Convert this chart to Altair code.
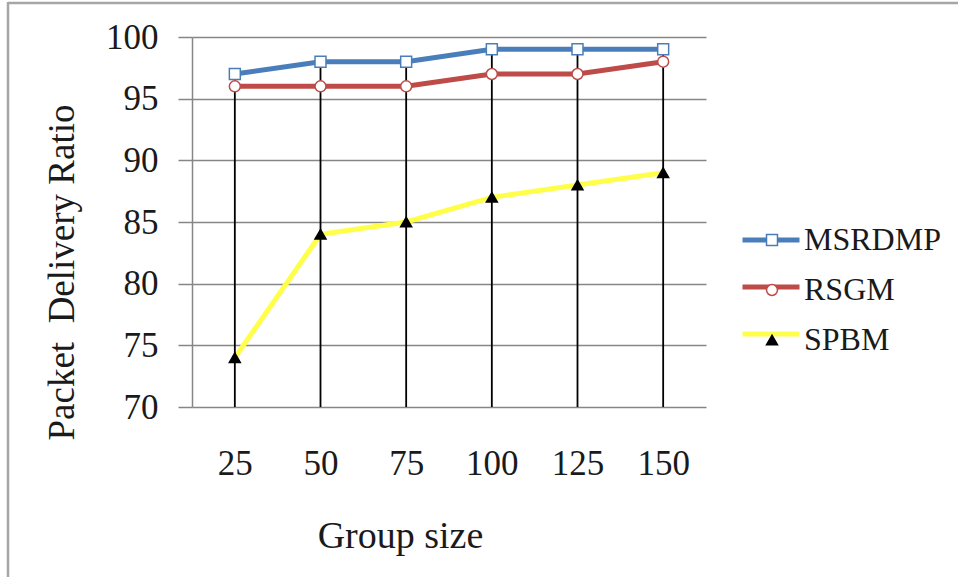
import altair as alt
import pandas as pd

# Group sizes and packet delivery ratio of each protocol
groups = ["25", "50", "75", "100", "125", "150"]
series_names = ["MSRDMP", "RSGM", "SPBM"]
msrdmp = [97, 98, 98, 99, 99, 99]
rsgm = [96, 96, 96, 97, 97, 98]
spbm = [74, 84, 85, 87, 88, 89]

line_colors = ["#4a7ebb", "#be4b48", "#ffff4a"]
marker_strokes = ["#4a7ebb", "#be4b48", "#000000"]
marker_fills = ["#ffffff", "#ffffff", "#000000"]
marker_shapes = ["square", "circle", "triangle-up"]

rows = []
for name, vals in zip(series_names, [msrdmp, rsgm, spbm]):
    for g, v in zip(groups, vals):
        rows.append({"group": g, "series": name, "value": v})
df = pd.DataFrame(rows)

W, H = 514, 370
PAD_L, PAD_T = 192, 37
FONT = "Liberation Serif"
GRID = "#868686"

y_axis = alt.Axis(
    values=[70, 75, 80, 85, 90, 95, 100],
    domainColor=GRID, domainWidth=1.5,
    tickColor=GRID, tickWidth=1.5, tickSize=14,
    gridColor=GRID, gridWidth=1.5,
    labelFontSize=35, labelPadding=20, labelBaseline="middle",
    labelColor="#1a1a1a", labelFont=FONT,
    title="Packet\u00a0 Delivery Ratio", titleFont=FONT, titleFontSize=37,
    titleFontWeight="normal", titleColor="#1a1a1a",
    titleAngle=270, titleX=-130, titleY=235,
    titleAlign="center", titleBaseline="middle",
)
x_axis = alt.Axis(
    domain=False, ticks=False, grid=False, labelAngle=0,
    labelFontSize=35, labelPadding=39, labelColor="#1a1a1a", labelFont=FONT,
    title="Group size", titleFont=FONT, titleFontSize=38,
    titleFontWeight="normal", titleColor="#1a1a1a",
    titleX=208, titleY=129, titleAlign="center", titleBaseline="middle",
)
y_scale = alt.Scale(domain=[70, 100], nice=False, zero=False)
x_enc = alt.X("group:O", sort=groups, axis=x_axis, scale=alt.Scale(type="point", padding=0.5))

base = alt.Chart(df)

lines = base.mark_line(strokeWidth=5).encode(
    x=x_enc,
    y=alt.Y("value:Q", scale=y_scale, axis=y_axis),
    stroke=alt.Stroke(
        "series:N",
        scale=alt.Scale(domain=series_names, range=line_colors),
        legend=alt.Legend(
            title=None, orient="none", legendX=548, legendY=172,
            symbolType="stroke", symbolSize=3249, symbolStrokeWidth=5,
            labelExpr="''", labelFontSize=32, labelFont=FONT,
            rowPadding=-12, padding=0,
        ),
    ),
    detail="series:N",
)

# vertical drop lines from the highest value down to the axis floor
drops = base.transform_aggregate(
    top="max(value)", groupby=["group"]
).mark_rule(color="#000000", strokeWidth=1.8).encode(
    x=x_enc,
    y=alt.Y("top:Q", scale=y_scale, axis=y_axis),
    y2=alt.datum(70),
)

legend_pts = alt.Legend(
    title=None, orient="none", legendX=564, legendY=187,
    symbolSize=120, symbolStrokeWidth=1.5,
    labelFontSize=32, labelFont=FONT, labelColor="#1a1a1a",
    labelOffset=16, rowPadding=18, padding=0,
)
points = base.mark_point(filled=False, size=120, strokeWidth=1.5, opacity=1).encode(
    x=x_enc,
    y=alt.Y("value:Q", scale=y_scale, axis=y_axis),
    color=alt.Color("series:N", scale=alt.Scale(range=marker_strokes), legend=legend_pts),
    shape=alt.Shape("series:N", scale=alt.Scale(range=marker_shapes), legend=legend_pts),
    fill=alt.Fill("series:N", scale=alt.Scale(range=marker_fills), legend=legend_pts),
)

# chart-area frame on the left and top edges
frame_src = pd.DataFrame({"k": [0]})
frame_left = alt.Chart(frame_src).mark_rule(color="#a6a6a6", strokeWidth=2.5).encode(
    x=alt.value(8 - PAD_L), y=alt.value(2 - PAD_T), y2=alt.value(577 - PAD_T)
)
frame_top = alt.Chart(frame_src).mark_rule(color="#a6a6a6", strokeWidth=2.5).encode(
    x=alt.value(8 - PAD_L), x2=alt.value(958 - PAD_L), y=alt.value(3 - PAD_T)
)

chart = alt.layer(frame_left, frame_top, lines, drops, points).properties(
    width=W, height=H,
    autosize=alt.AutoSizeParams(type="none"),
    padding={"left": PAD_L, "top": PAD_T, "right": 958 - PAD_L - W, "bottom": 577 - PAD_T - H},
    background="#ffffff",
).configure_view(stroke=None)

chart.save("out.html", embed_options={"renderer": "svg", "actions": False})
